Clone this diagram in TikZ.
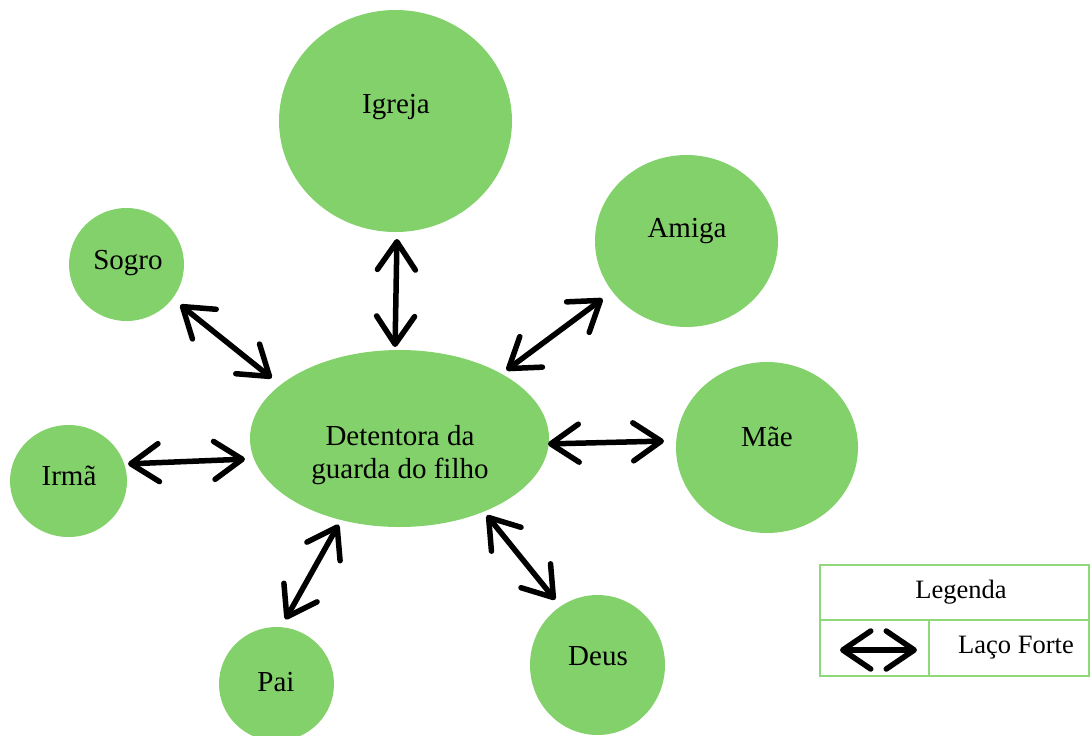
\documentclass[tikz,border=0pt]{standalone}
\usepackage{fontspec}
\setmainfont{Liberation Serif}
\usetikzlibrary{arrows.meta}
\definecolor{leaf}{HTML}{83D16B}
\definecolor{lgline}{HTML}{8FD87A}
\begin{document}
\begin{tikzpicture}[x=1pt,y=-1pt,
  lbl/.style={font=\fontsize{29}{33}\selectfont,align=center},
  leglbl/.style={font=\fontsize{26.5}{30}\selectfont},
  tie/.style={line width=5.5pt,{Straight Barb[length=28pt,width=38pt,round]}-{Straight Barb[length=28pt,width=38pt,round]},shorten <=3pt,shorten >=3pt}]
\useasboundingbox (0,0) rectangle (1090,736);
\begin{scope}
\clip (0,0) rectangle (1090,736);
\fill[leaf] (399.5,438.5) ellipse [x radius=149.5, y radius=88.5];
\fill[leaf] (395.5,121) ellipse [x radius=116.5, y radius=111];
\fill[leaf] (686.5,241) ellipse [x radius=91.5, y radius=86];
\fill[leaf] (126.5,264.5) ellipse [x radius=57.5, y radius=56.5];
\fill[leaf] (767,447.5) ellipse [x radius=91, y radius=85.5];
\fill[leaf] (68.5,481) ellipse [x radius=58.5, y radius=56];
\fill[leaf] (276.5,684) ellipse [x radius=57.5, y radius=57];
\fill[leaf] (597.5,665) ellipse [x radius=67.5, y radius=70];
\end{scope}
\node[lbl] (c) at (400,455) {Detentora da\\guarda do filho};
\node[lbl] (igreja) at (396,107) {Igreja};
\node[lbl] (amiga) at (687,231) {Amiga};
\node[lbl] (sogro) at (128,263) {Sogro};
\node[lbl] (mae) at (767,437) {Mãe};
\node[lbl] (irma) at (69,476) {Irmã};
\node[lbl] (pai) at (276,682) {Pai};
\node[lbl] (deus) at (598,656) {Deus};
% connector endpoints
\coordinate (i1) at (397,236); \coordinate (i2) at (395,350);
\coordinate (a1) at (605,297); \coordinate (a2) at (504,372);
\coordinate (s1) at (178,303); \coordinate (s2) at (274,380);
\coordinate (r1) at (125,464); \coordinate (r2) at (248,459);
\coordinate (m1) at (545,444); \coordinate (m2) at (667,441);
\coordinate (p1) at (340,522); \coordinate (p2) at (284,622);
\coordinate (d1) at (485,513); \coordinate (d2) at (557,602);
\draw[tie] (i1) -- (i2);
\draw[tie] (a1) -- (a2);
\draw[tie] (s1) -- (s2);
\draw[tie] (r1) -- (r2);
\draw[tie] (m1) -- (m2);
\draw[tie] (p1) -- (p2);
\draw[tie] (d1) -- (d2);
% legend
\draw[lgline,line width=2pt] (820,565) rectangle (1089,676);
\draw[lgline,line width=2pt] (820,620) -- (1089,620);
\draw[lgline,line width=2pt] (929,620) -- (929,676);
\node[leglbl] (leg) at (961,592) {Legenda};
\node[leglbl] (laco) at (1016,648) {Laço Forte};
\coordinate (l1) at (837,650); \coordinate (l2) at (920,650);
\draw[tie] (l1) -- (l2);
\end{tikzpicture}
\end{document}
